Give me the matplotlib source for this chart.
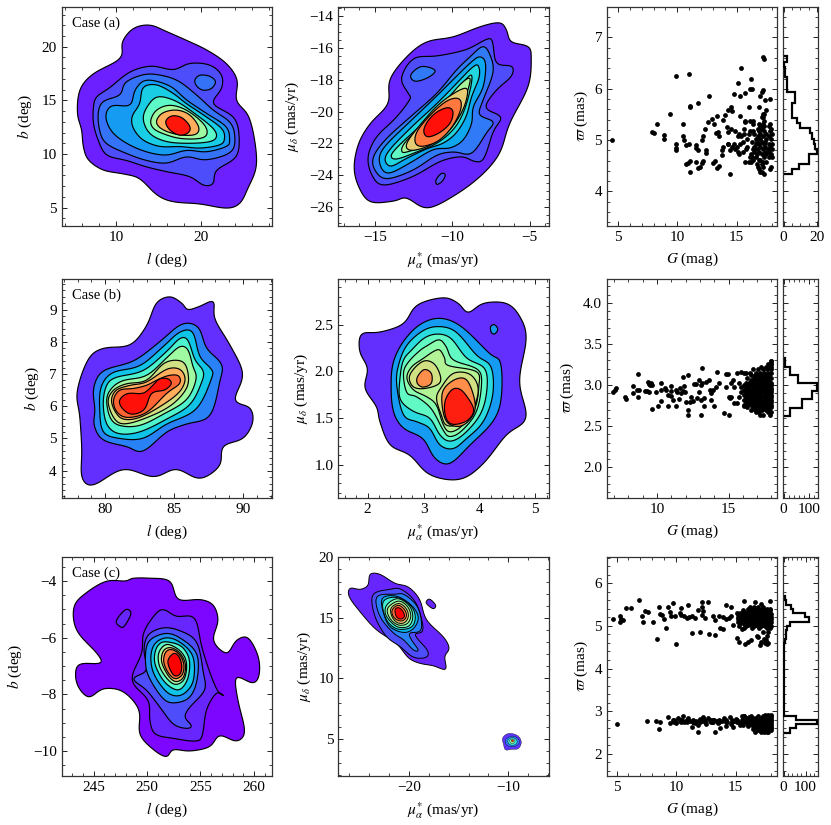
import numpy as np
import matplotlib
matplotlib.use("Agg")
import matplotlib.pyplot as plt
from matplotlib.ticker import MultipleLocator

plt.rcParams['font.family'] = ['Liberation Serif', 'DejaVu Serif']
plt.rcParams['mathtext.fontset'] = 'stix'
plt.rcParams['font.size'] = 10
plt.rcParams['axes.unicode_minus'] = True

# ---------- density contours: each level is a list of rings of (x, y) ----------
A1 = [
 [[(14.0,22.02),(16.0,21.4),(18.3,20.6),(20.7,19.7),(23.0,18.45),(24.3,16.9),(24.2,15.0),(25.6,13.6),(26.35,11.3),(26.55,8.8),(25.55,6.8),(24.6,5.4),(23.0,4.95),(19.9,5.35),(16.75,5.55),(14.8,6.2),(12.8,7.7),(10.85,8.15),(8.5,8.5),(6.75,9.45),(6.15,10.7),(5.95,12.25),(5.45,13.8),(5.75,16.0),(7.35,17.5),(10.5,18.9),(10.75,20.45),(12.05,21.7)]],
 [[(7.35,14.4),(7.75,15.35),(9.3,16.2),(11.65,17.65),(14.2,18.2),(16.75,17.85),(18.7,18.45),(21.05,18.3),(22.45,17.35),(22.45,16.1),(21.45,14.7),(23.8,13.5),(24.5,11.9),(24.2,9.75),(21.85,8.5),(21.45,7.25),(20.3,7.1),(18.7,7.9),(16,8.35),(13.6,8.8),(11.25,9.4),(8.9,9.9),(7.9,11.3),(7.35,12.85)]],
 [[(7.9,13.8),(8.5,14.9),(10.45,15.5),(11.05,16.6),(12.6,17.25),(14.4,17.45),(17.15,16.9),(19.5,15.5),(21.45,14.1),(23.4,13.0),(24.0,11.75),(23.6,10.2),(20.65,9.45),(18.3,9.75),(16,9.15),(13.6,9.4),(11.25,10.05),(8.9,10.95),(8.1,12.1)],
  [(19.3,16.9),(19.9,17.35),(21.05,17.25),(21.75,16.75),(21.25,16.1),(20.25,15.95),(19.5,16.35)]],
 [[(8.8,13.5),(9.5,14.5),(11.65,14.55),(12.25,15.95),(13.6,16.9),(16.35,16.35),(18.3,15.05),(20.65,13.8),(23,12.55),(23.4,11.3),(23,10.7),(20.65,10.2),(18.3,10.35),(16,9.9),(13.6,10.2),(11.25,11),(9.5,12.1)]],
 [[(11.9,13.5),(12.8,14.7),(13.2,16.2),(14.8,16.45),(16.75,15.65),(18.3,14.7),(20.3,13.65),(22.45,12.4),(22.8,11.45),(22.25,10.85),(19.9,10.55),(17.55,10.7),(15.2,10.7),(13.2,11.3),(12.05,12.4)]],
 [[(13.2,13.3),(13.8,14.55),(15,15.35),(17.15,14.9),(19.5,13.65),(21.45,12.4),(21.85,11.6),(21.05,11.15),(18.7,11),(16,11.15),(14,11.9)]],
 [[(14.1,13.15),(14.8,14.1),(16.35,14.55),(18.3,14.1),(20.3,12.85),(20.75,11.9),(19.9,11.45),(17.55,11.45),(15.55,11.9),(14.4,12.4)]],
 [[(14.8,13.15),(15.55,13.85),(17.15,14.1),(18.7,13.65),(19.75,12.55),(19.45,11.85),(17.9,11.75),(16.15,12.05),(15.05,12.55)]],
 [[(15.85,13.0),(16.55,13.55),(17.75,13.4),(18.7,12.6),(18.55,12.0),(17.55,11.75),(16.4,12.2)]],
]
A2 = [
 [[(-6.95,-14.4),(-6.5,-14.85),(-6.2,-15.6),(-5.1,-15.9),(-4.9,-16.65),(-5.1,-18.45),(-6.3,-20.75),(-6.95,-22.65),(-8.2,-24.1),(-9.95,-25.35),(-11.65,-26.1),(-12.95,-25.45),(-13.8,-25.65),(-15.3,-25.7),(-16.05,-24.75),(-16.35,-23.5),(-16.05,-22),(-15.3,-20.75),(-14.15,-19.5),(-14.05,-18),(-12.95,-16.55),(-11.65,-15.6),(-9.95,-15.3),(-8.2,-14.65)]],
 [[(-13.3,-17.9),(-12.5,-16.65),(-11,-16.5),(-9.1,-16.1),(-7.8,-15.45),(-7.4,-15.6),(-7.15,-16.95),(-6.15,-17.15),(-6.2,-17.8),(-7.15,-18.65),(-7.85,-19.75),(-6.85,-20.35),(-7.35,-21.25),(-7.95,-22.95),(-8.55,-23.15),(-9.4,-22.85),(-10.8,-23.15),(-12.55,-24.1),(-14.45,-24.65),(-15.2,-24),(-15.45,-22.85),(-14.9,-21.6),(-13.7,-20.45),(-12.75,-19.25),(-12.85,-18.85)],
  [(-11.05,-24.3),(-10.7,-23.9),(-10.45,-24),(-10.65,-24.4),(-11,-24.6)]],
 [[(-8.05,-15.9),(-7.6,-16.35),(-7.35,-17.5),(-8,-19.25),(-8.25,-20.2),(-7.35,-20.65),(-7.8,-21.35),(-8.75,-22.65),(-9.85,-22.55),(-11,-22.75),(-12.55,-23.7),(-14.25,-24.25),(-15,-23.7),(-15.1,-22.85),(-14.25,-21.7),(-12.55,-20.2),(-11,-18.85),(-9.75,-17.4),(-8.85,-16.55)],
  [(-12.7,-17.7),(-12,-17.15),(-11.1,-17.4),(-11.55,-17.85),(-12.4,-18.1)]],
 [[(-8.25,-16.55),(-7.85,-16.95),(-8,-18.45),(-8.65,-19.7),(-8.75,-20.75),(-9.3,-21.8),(-10.15,-22.3),(-11.25,-22.4),(-12.75,-23.25),(-14.15,-23.9),(-14.7,-23.25),(-14.45,-22.3),(-12.75,-20.65),(-11.25,-19.25),(-9.75,-17.8),(-8.85,-16.95)]],
 [[(-8.35,-17.07),(-8.25,-17.8),(-8.75,-19.05),(-9.1,-20.3),(-9.75,-21.35),(-10.6,-22),(-11.65,-22.35),(-12.95,-22.95),(-13.95,-23.45),(-14.35,-23.05),(-14,-22.35),(-12.55,-20.9),(-11,-19.5),(-9.55,-18.05),(-8.8,-17.3)]],
 [[(-8.75,-17.7),(-8.85,-18.65),(-9.3,-20.1),(-9.95,-21.15),(-11,-22),(-12.3,-22.55),(-13.6,-23),(-13.95,-22.75),(-13.3,-22),(-11.9,-20.75),(-10.6,-19.5),(-9.3,-18.15)]],
 [[(-8.85,-17.9),(-9.05,-18.85),(-9.45,-20.1),(-10.3,-21.3),(-11.4,-22.05),(-12.75,-22.5),(-13.25,-22.55),(-13.1,-22),(-12,-20.9),(-10.75,-19.7),(-9.5,-18.3)]],
 [[(-9.15,-18.5),(-9.1,-19.3),(-9.6,-20.4),(-10.5,-21.5),(-11.6,-22.2),(-12.7,-22.45),(-12.95,-22),(-12,-20.75),(-10.7,-19.4)]],
 [[(-9.55,-19.2),(-9.45,-19.85),(-10,-20.95),(-10.9,-21.85),(-11.95,-22.2),(-12.4,-21.95),(-12.25,-21.2),(-11.3,-20.1),(-10.3,-19.3)]],
 [[(-10.25,-19.75),(-9.95,-20.05),(-10.15,-20.75),(-10.85,-21.35),(-11.6,-21.6),(-11.85,-21.2),(-11.55,-20.55),(-10.95,-20)]],
]
B1 = [
 [[(84.7,9.4),(85.55,9.2),(86,9),(86.85,9.1),(87.85,9.25),(87.95,8.7),(89.05,7.9),(90,7),(89.4,6.2),(90.5,5.95),(90.7,5.5),(90,5),(88.55,4.75),(88.3,4.15),(86.85,3.75),(85.15,4.05),(83.5,3.8),(81.3,4.05),(79.15,3.55),(78.3,3.8),(78.3,4.65),(78.15,5.7),(77.95,6.45),(78.75,7.45),(79.85,7.8),(81.8,7.9),(83,8.5),(83.7,9.2)]],
 [[(85.55,8.55),(86.75,8.45),(87.35,7.8),(88.45,7.3),(88.3,6.75),(87.6,5.7),(85.9,5.45),(84.45,5.2),(82.75,4.6),(81.55,4.75),(79.85,4.95),(79.2,5.4),(79.25,5.9),(79.15,6.55),(79.85,7.1),(82.05,7.4),(83.95,8.0)]],
 [[(85.4,8.3),(86.35,8.3),(86.85,7.55),(87.7,7.15),(87.7,6.85),(86.6,5.9),(84.45,5.45),(82.75,5.0),(81.05,5.0),(79.85,5.2),(79.6,5.9),(79.7,6.6),(80.55,7.05),(82.5,7.25),(84.2,7.85)]],
 [[(85.4,8.1),(86,8.05),(86.5,7.45),(87.1,7.1),(87,6.75),(86.15,6.05),(84.45,5.6),(82.5,5.2),(80.95,5.15),(80.1,5.45),(79.85,6.1),(80.1,6.65),(80.8,6.9),(82.75,7.1),(84.45,7.7)]],
 [[(85.4,7.85),(86,7.75),(86.35,7.25),(86.6,6.85),(85.9,6.2),(84.2,5.75),(82.5,5.4),(81.05,5.4),(80.35,5.65),(80.1,6.2),(80.45,6.55),(81.3,6.8),(83,6.95),(84.45,7.5)]],
 [[(84.3,7.35),(85.55,7.4),(86,7.05),(85.9,6.55),(84.7,6),(82.75,5.6),(81.3,5.45),(80.6,5.65),(80.2,6.15),(80.6,6.5),(81.55,6.7),(83,6.8)]],
 [[(84.45,7.15),(85.4,7.15),(85.8,6.85),(85.4,6.45),(84.2,6.05),(82.5,5.65),(81.3,5.6),(80.7,5.85),(80.45,6.2),(80.8,6.5),(81.8,6.65),(83,6.75)]],
 [[(84.55,6.95),(85.3,6.95),(85.4,6.7),(84.45,6.4),(83,5.8),(81.55,5.65),(80.8,5.85),(80.6,6.2),(81.05,6.5),(82.05,6.55),(83,6.65),(83.7,6.8)]],
 [[(84.55,6.85),(84.8,6.7),(84.3,6.5),(83.35,6.4),(82.85,5.9),(81.9,5.75),(81.2,5.95),(81.05,6.2),(81.65,6.4),(82.75,6.4),(83.45,6.65),(83.95,6.85)]],
]
B2 = [
 [[(3.35,2.79),(3.62,2.73),(3.8,2.63),(4.07,2.73),(4.48,2.73),(4.72,2.59),(4.84,2.35),(4.71,1.89),(4.84,1.5),(4.48,1.32),(4.07,1.01),(3.65,0.84),(3.11,0.89),(2.76,1.1),(2.4,1.21),(2.22,1.46),(2.16,1.62),(1.95,1.82),(2,2.03),(1.86,2.21),(1.89,2.4),(2.22,2.42),(2.64,2.51),(2.88,2.71)]],
 [[(3.29,2.57),(3.68,2.48),(4.18,2.19),(4.38,2.09),(4.39,1.71),(4.24,1.46),(3.83,1.21),(3.47,1.01),(3.2,1.07),(2.99,1.28),(2.64,1.39),(2.46,1.57),(2.42,1.85),(2.46,2.1),(2.64,2.32),(2.93,2.5)],
  [(4.2,2.48),(4.27,2.5),(4.33,2.45),(4.27,2.4),(4.21,2.42)]],
 [[(3.29,2.48),(3.59,2.42),(3.95,2.17),(4.21,2.05),(4.24,1.75),(4.07,1.46),(3.77,1.28),(3.53,1.17),(3.29,1.21),(3.11,1.39),(2.88,1.46),(2.64,1.53),(2.52,1.85),(2.55,2.06),(2.7,2.28),(3,2.44)]],
 [[(3.26,2.4),(3.5,2.35),(3.77,2.14),(4.1,2.03),(4.13,1.78),(4.01,1.53),(3.71,1.32),(3.47,1.25),(3.29,1.32),(3.11,1.5),(2.82,1.57),(2.58,1.7),(2.58,1.93),(2.64,2.12),(2.79,2.23),(3.02,2.36)]],
 [[(3.28,2.34),(3.41,2.26),(3.53,2.12),(3.95,2.03),(4.04,1.89),(3.95,1.57),(3.68,1.36),(3.47,1.3),(3.35,1.37),(3.14,1.6),(2.87,1.73),(2.7,1.77),(2.64,1.98),(2.73,2.1),(2.93,2.22),(3.08,2.28)]],
 [[(3.29,2.23),(3.38,2.14),(3.44,2.06),(3.95,2),(3.99,1.85),(3.92,1.6),(3.68,1.41),(3.47,1.35),(3.35,1.43),(3.23,1.64),(3.05,1.73),(2.82,1.8),(2.7,1.93),(2.79,2.05),(3,2.14),(3.17,2.21)]],
 [[(2.75,1.96),(2.99,2.11),(3.21,2.07),(3.31,1.89),(3.07,1.82),(2.82,1.83)],
  [(3.32,1.83),(3.53,1.98),(3.83,1.97),(3.98,1.82),(3.89,1.6),(3.65,1.44),(3.41,1.42),(3.32,1.53),(3.23,1.71)]],
 [[(2.89,1.94),(3.01,2.02),(3.14,1.98),(3.14,1.87),(2.99,1.83),(2.89,1.87)],
  [(3.35,1.8),(3.59,1.92),(3.8,1.89),(3.93,1.6),(3.71,1.42),(3.44,1.44),(3.34,1.6)]],
 [[(3.38,1.67),(3.5,1.8),(3.65,1.81),(3.8,1.71),(3.9,1.58),(3.78,1.47),(3.53,1.43),(3.4,1.5)]],
]
C1 = [
 [[(248.7,-3.9),(250.25,-3.9),(252.15,-4.0),(252.9,-4.65),(254.95,-4.65),(256.2,-4.85),(256.65,-5.4),(256.2,-6.1),(257.45,-6.55),(258.35,-6.1),(259.45,-6.0),(260.4,-6.65),(260.5,-7.3),(259.9,-7.6),(258.35,-7.4),(258.5,-8.2),(259.15,-9.3),(258.35,-9.65),(256.8,-9.45),(255.85,-9.85),(254,-10.0),(252.45,-9.95),(251.8,-10.2),(250.6,-9.95),(249.3,-9.4),(249.25,-8.55),(247.75,-7.9),(245.9,-7.8),(244.5,-8.1),(243.4,-7.6),(243.55,-6.95),(245.6,-6.9),(245.3,-6.55),(243.4,-5.75),(243.15,-4.9),(244.35,-4.4),(246.2,-4.0),(247.95,-4.0)]],
 [[(251.5,-5.0),(252.75,-5.25),(254.45,-5.3),(255.1,-6.3),(255.9,-7.25),(256.65,-7.9),(257.2,-8.05),(256.5,-7.95),(255.55,-8.55),(255.2,-9.4),(254.6,-9.65),(252.45,-9.55),(250.75,-9.4),(250.25,-8.9),(250.1,-8.2),(248.55,-7.5),(249.5,-6.55),(249.65,-5.85),(250.6,-5.25)],
  [(247.1,-5.4),(248,-5.0),(248.5,-5.15),(247.85,-5.6),(247.45,-5.6)]],
 [[(251.5,-5.65),(253.05,-5.75),(254.65,-6.15),(255.25,-7.2),(255.4,-7.85),(254,-8.45),(253.55,-8.8),(254.15,-9.1),(253.7,-9.2),(252.45,-9.05),(251.2,-8.45),(249.95,-7.85),(248.7,-7.45),(249.95,-7.15),(249.7,-6.45),(250.1,-5.9)]],
 [[(251.65,-5.85),(253.05,-6),(254.65,-6.55),(254.7,-7.45),(254,-8.1),(252.6,-8.3),(251.5,-8.15),(250.25,-7.45),(249.85,-6.9),(250.1,-6.15)]],
 [[(251.8,-6),(253.05,-6.15),(254.3,-6.65),(254.35,-7.5),(253.55,-7.95),(252.6,-8.05),(251.65,-7.85),(250.6,-7.25),(250.35,-6.65),(250.75,-6.2)]],
 [[(251.95,-6.15),(253.2,-6.3),(253.95,-6.75),(253.85,-7.4),(253.2,-7.8),(252.45,-7.8),(251.5,-7.5),(250.75,-6.95),(250.75,-6.5),(251.2,-6.2)]],
 [[(252.15,-6.25),(253.2,-6.5),(253.7,-6.9),(253.5,-7.45),(252.75,-7.65),(252,-7.5),(251.2,-7.05),(251.05,-6.6),(251.5,-6.3)]],
 [[(252.25,-6.35),(253.1,-6.55),(253.6,-6.95),(253.4,-7.4),(252.7,-7.55),(252,-7.35),(251.35,-6.85),(251.55,-6.45)]],
 [[(252.35,-6.42),(253.05,-6.6),(253.45,-6.95),(253.3,-7.3),(252.65,-7.45),(252,-7.25),(251.55,-6.85),(251.75,-6.5)]],
 [[(252.5,-6.55),(253,-6.68),(253.25,-7.0),(253.1,-7.27),(252.6,-7.35),(252.15,-7.12),(251.95,-6.8)]],
]
C2 = [
 [[(-23.9,18.6),(-22.9,18.6),(-21.4,17.85),(-20.05,17.55),(-18.9,16.5),(-18.25,14.85),(-16.55,13.45),(-15.95,12.5),(-16.4,11.8),(-16.3,10.75),(-17.55,11.05),(-18.9,11.25),(-20.05,11.7),(-21.25,12.9),(-23.25,14),(-24.9,15.5),(-26,16.75),(-25.9,17.45),(-24.9,17.35),(-24.1,17.7)],
  [(-18.25,16.35),(-17.9,16.55),(-17.3,16.05),(-17.55,15.75),(-18.15,16.1)]],
 [[(-23.65,16.9),(-21.9,17.35),(-20.75,17.35),(-19.25,16.2),(-18.55,14),(-19.4,13.6),(-18.15,12.35),(-18.25,11.75),(-19.55,11.75),(-20.9,12.65),(-22.25,13.45),(-23.4,15.1)]],
 [[(-23.25,16.75),(-21.4,16.95),(-20.4,16.9),(-19.05,15.8),(-18.75,14),(-19.9,13.75),(-19.75,13.2),(-19.05,12.35),(-19.55,12.35),(-20.55,13.2),(-21.55,13.75),(-22.9,15.1)]],
 [[(-22.75,16.55),(-21.25,16.8),(-19.75,16.05),(-19.05,15.1),(-19.4,14.25),(-20.25,13.8),(-21.4,14),(-22.25,14.7)]],
 [[(-22.6,16.35),(-21.25,16.7),(-19.8,16),(-19.35,15.1),(-19.65,14.3),(-20.55,14.05),(-21.5,14.2),(-22.35,15)]],
 [[(-22.2,16.1),(-21.1,16.6),(-19.95,16.0),(-19.6,15.1),(-19.95,14.35),(-20.85,14.2),(-21.6,14.5),(-22.35,15.3)]],
 [[(-22,15.95),(-21,16.4),(-20.1,15.9),(-19.8,15.1),(-20.2,14.5),(-21,14.4),(-21.7,14.75),(-22.15,15.4)]],
 [[(-21.8,15.8),(-21,16.2),(-20.25,15.75),(-20.05,15.1),(-20.45,14.6),(-21.15,14.6),(-21.7,15.1)]],
 [[(-21.65,15.7),(-21.05,16.05),(-20.4,15.65),(-20.25,15.1),(-20.65,14.75),(-21.25,14.85),(-21.65,15.25)]],
 [[(-21.4,15.65),(-21.05,15.85),(-20.6,15.55),(-20.45,15.1),(-20.85,14.9),(-21.25,15.1)]],
]
# the small proper-motion clump of case (c), drawn from outside to inside
C2_CLUMP = [
 [(-10.6,5.05),(-10.2,5.4),(-9.6,5.45),(-8.95,5.2),(-8.7,4.7),(-9,4.2),(-9.7,4.15),(-10.3,4.1),(-10.5,4.6)],
 [(-10.3,4.95),(-9.6,5.25),(-9,5),(-8.95,4.6),(-9.5,4.35),(-10.15,4.5)],
 [(-10.05,4.9),(-9.6,5.12),(-9.15,4.9),(-9.2,4.6),(-9.6,4.48),(-9.95,4.6)],
 [(-9.85,4.9),(-9.6,5.02),(-9.35,4.88),(-9.4,4.7),(-9.65,4.62),(-9.82,4.72)],
 [(-9.72,4.88),(-9.58,4.95),(-9.47,4.85),(-9.6,4.75)],
]
SHADE_CLUMP = [.07,.16,.36,.56,.95]
# rainbow position of each level
SHADE_A1 = [.04,.10,.15,.21,.30,.43,.56,.76,.97]
SHADE_A2 = [.05,.10,.16,.23,.32,.44,.58,.70,.84,.98]
SHADE_B1 = [.06,.17,.28,.40,.56,.66,.76,.87,.98]
SHADE_B2 = [.06,.21,.33,.44,.52,.60,.66,.81,.96]
SHADE_C1 = [.01,.05,.10,.18,.28,.42,.56,.72,.85,1.0]
SHADE_C2 = [.05,.10,.17,.26,.38,.5,.6,.72,.86,1.0]

# ---------- parallax vs G: isolated stars as (G, parallax), crowded parts as (parallax, [G...]) ----------
A_STARS = [(4.45,5.0),(7.9,5.15),(8.0,5.13),(8.25,5.31),(8.85,5.1),(8.9,5.03),(9.35,5.51),(9.85,6.25),(9.85,4.93),(9.85,4.85),(9.85,4.8),(10.5,5.31),(10.45,5.07),(10.55,5.0),(11,6.29),(11.1,5.66),(11.1,5.64),(11.75,5.73),(12.65,5.86),(10.75,4.9),(10.7,4.53),(10.9,4.56),(11.1,4.6),(11.1,4.37),(11,4.93),(11.6,4.9),(11.6,4.84),(11.7,4.8),(11.6,4.58),(11.75,4.45),(11.9,4.48),(12.05,4.55),(12.2,4.6),(12.1,5.0),(12.2,5.07),(12.35,5.22),(12.45,4.8),(12.4,4.75),(12.6,5.35),(12.9,5.42),(13.1,5.31),(13.35,5.47),(13,4.56),(13.15,4.59),(13.35,4.46),(13.5,4.49),(13.3,5.13),(13.45,5.16),(13.5,5.08),(13.75,4.8),(13.8,4.71),(13.85,4.87),(13.85,5.4),(14,5.49),(14.25,5.59),(14.5,5.65),(14.6,5.57),(14.15,5.25),(14.3,5.16),(14.5,5.21),(14.3,4.93),(14.4,4.8),(14.45,4.33),(14.8,5.89),(15.1,6.12),(15.3,5.85),(15.4,6.41),(15.7,5.91),(16.2,6.2),(16.1,6.0),(16.3,5.99),(15.3,5.46),(15.7,5.36),(17.2,6.61),(17.3,6.58),(17.2,5.97),(17.1,5.93),(17,5.85),(17.4,5.78),(17.8,5.8),(17.5,5.58),(16.85,5.65),(16,5.65)]
A_ROWS = [(4.33,[17.3]),(4.38,[17.0,17.15]),(4.43,[16.9,17.8]),(4.47,[16.8,17.9,17.2]),(4.53,[16.75,17.1]),(4.57,[15.7,16.0,16.2,17.2,17.5]),(4.62,[16.4,16.85,17.0]),(4.67,[16.1,16.3,16.6,17.3,17.7,18.0]),(4.72,[15.2,16.2,16.7,17.1,17.5,17.9]),(4.77,[15.1,15.5,16.5,16.9,17.4,17.7]),(4.82,[14.9,15.8,16.4,16.7,17.2,17.6,18.0]),(4.87,[14.6,15.0,15.9,16.5,17.0,17.4,17.8]),(4.92,[14.3,14.8,15.3,16.6,16.9,17.3,17.7,18.0]),(4.97,[15.5,16.3,16.7,17.1,17.4]),(5.02,[15.9,16.6,17.0,17.5,17.9]),(5.07,[15.1,15.4,16.8,17.2,17.7]),(5.12,[15.2,15.6,16.0,16.5,17.0,17.5,18.0]),(5.17,[14.9,16.1,16.4,16.9,17.3,17.8]),(5.22,[15.6,16.8,17.1,17.9]),(5.27,[17.0,17.3,17.7]),(5.32,[16.4,16.9,17.2,17.8]),(5.38,[15.7,16.1,16.4,17.3]),(5.45,[17.1,17.25]),(5.5,[17.2,17.3])]

B_STARS = [(6.95,2.91),(7.05,2.94),(7.1,2.96),(7.75,2.86),(7.8,2.83),(8.35,2.99),(8.35,2.9),(8.6,2.94),(8.7,2.86),(8.7,3.13),(8.75,2.94),(9.15,2.93),(9.3,2.93),(9.35,3.04),(9.45,3.01),(9.55,3.03),(9.45,2.92),(9.5,3.0),(9.67,3.0),(9.67,2.71),(9.95,2.92),(10.05,2.75),(10.25,2.81),(10.3,3.03),(10.3,2.94),(10.55,2.96),(10.6,2.94),(10.75,2.88),(10.75,2.74),(10.95,2.99),(11,2.93),(10.95,2.87),(11.1,2.82),(11.35,2.94),(11.35,2.75),(11.4,2.91),(11.6,2.96),(11.55,2.83),(11.7,2.9),(11.8,2.93),(11.8,3.1),(11.9,2.99),(11.95,2.92),(12.15,3.12),(12.05,2.79),(12.15,2.7),(12.15,2.64),(12.3,2.79),(12.4,2.85),(12.5,2.81),(12.55,3.01),(12.7,3.01),(12.8,2.84),(12.9,2.92),(12.95,3.06),(13.05,3.0),(13.05,2.82),(13.05,2.63),(13.15,3.21),(13.15,3.02),(13.3,2.75),(13.3,2.84),(13.45,3.04),(13.65,3.06),(13.7,2.94),(13.75,2.9),(13.8,2.82),(13.9,2.94),(14,2.74),(14.2,3.16),(14.15,2.98),(14.35,3.02),(14.65,2.66),(14.8,3.13),(14.95,3.13),(15.05,2.64),(14.8,2.98),(15,2.85),(15.1,2.84),(15.2,3.02),(15.3,3.06),(15.4,2.98),(15.2,2.86),(15.4,2.78),(15.6,3.15),(15.7,2.85),(15.85,3.16),(15.9,2.98),(15.6,2.78),(15.75,3.02),(15.9,2.92),(16.05,2.75),(16.1,3.15)]
B_G1 = [16.2,16.45,16.7,16.95,17.2,17.45,17.7,17.95]
B_G2 = [16.05,16.3,16.55,16.8,17.05,17.3,17.55,17.8,18.0]
B_G3 = [16.6,16.85,17.1,17.35,17.6,17.85]
B_ROWS = [(2.64,[17.2,17.4,17.9]),(2.67,[16.95,17.15,17.75,18.0]),(2.7,B_G3),(2.73,[16.3,16.7,16.95,17.2,17.45,17.7,17.95]),(2.76,B_G2),(2.79,B_G1),(2.82,B_G2),(2.85,B_G1),(2.88,B_G2),(2.91,B_G1),(2.94,B_G2),(2.97,B_G1),(3.0,B_G2),(3.03,B_G1),(3.06,B_G3),(3.09,[16.3,16.8,17.05,17.3,17.55,17.8,18.0]),(3.12,B_G3),(3.15,[16.2,16.5,16.9,17.2,17.5,17.75,18.0]),(3.19,[16.7,17.05,17.4,17.7,17.95]),(3.22,[17.3,17.6,17.85,18.0]),(3.26,[17.75,17.95,18.0]),(3.29,[17.95,18.0])]

C_STARS = [(4.7,5.16),(5.3,5.23),(5.4,5.16),(5.3,5.08),(5.55,5.14),(5.8,5.41),(6.25,5.41),(6.9,5.61),(7.1,5.24),(7.25,5.08),(7.4,5.35),(7.6,5.33),(8.1,5.08),(8.4,4.69),(8.55,5.44),(8.65,5.28),(8.85,5.26),(9,5.16),(9.15,4.96),(9.35,5.44),(9.45,5.33),(9.7,5.53),(9.6,5.22),(9.9,5.23),(10,4.57),(10.45,5.41),(11,5.49),(10.3,5.31),(10.45,5.26),(10.65,5.22),(10.95,5.18),(11.3,4.83),(11.6,5.18),(11.8,5.36),(12,4.85),(12.15,5.55),(12.15,5.45),(12.15,5.26),(12.3,5.34),(12.4,5.18),(12.7,5.56),(12.8,4.8),(13.25,4.79),(13.1,5.22),(13.25,5.14),(13.6,5.22),(13.7,4.95),(13.95,4.92),(14.15,5.49),(14.4,5.18),(14.6,5.44),(14.75,5.02),(14.65,5.22),(15.1,4.71),(15.25,4.63),(15.7,5.58),(15.8,4.57),(16.05,4.63),(16.25,4.67),(16.65,5.55),(16.75,4.77),(17.1,5.51),(17.15,4.63),(17.05,4.55),(17.55,4.67),(17.65,4.77),(17.9,5.59),(17.35,4.7),(17.45,4.6),(16.9,4.73),(15.1,5.3),(11.3,5.22),(11.05,5.2),(13.9,5.2),(14.2,5.15),(17.6,4.58),(17.7,4.6),(17.3,4.85),(17.75,4.85),(15.5,4.92),
 (5.0,2.71),(7.55,2.76),(8.3,2.76),(8.65,2.75),(8.55,2.58),(9.3,2.86),(9.5,2.72),(9.7,2.8),(9.9,2.78),(10,2.72),(10.2,2.85),(10.3,2.76),(10.5,2.8),(10.6,2.88),(10.7,2.74),(10.9,2.79),(11,2.84),(11.15,2.76),(11.3,2.62),(11.45,2.74),(11.6,2.72),(11.7,2.78),(11.8,2.68),(11.85,2.52),(12,2.82),(12.15,2.76),(12.3,2.86),(12.5,2.7),(12.65,2.84),(12.85,2.76),(13,2.74),(13.2,2.8),(13.3,2.52),(13.4,2.76),(13.55,2.72),(13.7,2.6),(13.85,2.78),(14,2.84),(14.15,2.66),(14.3,2.74),(14.5,2.86),(14.6,2.7),(14.75,2.62),(14.9,2.76),(15,2.82),(15.2,2.74),(15.4,2.68),(15.55,2.88),(15.7,2.9),(15.85,2.78),(16,2.66),(16.15,2.86),(16.3,2.74),(16.45,2.58),(16.6,2.84),(16.75,2.66),(16.65,2.52)]
C_U1 = [15.35,15.6,15.85,16.1,16.35,16.6,16.85,17.1,17.35,17.6,17.85]
C_U2 = [15.2,15.45,15.7,15.95,16.2,16.45,16.7,16.95,17.2,17.45,17.7,17.95]
C_U3 = [15.8,16.05,16.3,16.55,16.8,17.05,17.3,17.55,17.8]
C_L1 = [16.9,17.1,17.3,17.5,17.7,17.9,18.0]
C_L2 = [15.6,16.0,16.4,16.8,17.0,17.2,17.4,17.6,17.8,18.0]
C_LOW = [9.8,10.4,10.9,11.4,12.0,12.4,12.9,13.1,13.6,14.2,14.7,15.1,15.5,15.9,16.2,16.55]
C_ROWS = [(4.96,[15.7,16.4,17.0,17.6,17.85]),(5.0,[15.3,15.9,16.5,16.85,17.15,17.5,17.8,17.95]),(5.03,C_U3),(5.06,C_U1),(5.09,C_U2),(5.12,C_U1),(5.15,C_U2),(5.18,C_U1),(5.21,C_U2),(5.24,C_U1),(5.27,C_U2),(5.3,C_U1),(5.33,C_U3),(5.36,[15.6,16.1,16.35,16.6,16.85,17.1,17.35,17.6,17.85]),(5.4,[16.0,16.3,16.6,16.85,17.2,17.6,17.85]),(5.45,[16.2,16.5,16.85,17.3]),
 (2.52,[17.1,17.35,17.6,17.75]),(2.56,C_L1),(2.6,C_L1),(2.64,[16.5,16.8,17.0,17.2,17.4,17.6,17.8,18.0]),(2.68,C_L2),(2.72,C_L2),(2.74,C_LOW),(2.76,C_L2),(2.79,C_LOW),(2.8,C_L2),(2.84,C_L2),(2.88,[15.7,16.3,16.9,17.3,17.6,17.8,18.0]),(2.92,[17.5,17.75,17.95])]

# ---------- parallax histograms: first edge, bin width, counts ----------
HIST_A = (4.33, 0.1, [5,9,15,15,20,19,18,17,16,10,8,5,5,5,7,7,2,2,2,1,1,0,2])
HIST_B = (2.625, 0.1, [24,70,109,129,57,24,4])
HIST_C = (2.5, 0.1, [28,55,154,55,1,1,1,1,1,1,1,1,1,1,1,1,1,1,1,1,3,8,10,12,15,28,117,98,43,35,12,6])

LIMS = {
 'A1': ((3.6,28.4),(3.32,23.73)), 'A2': ((-17.37,-3.75),(-27.2,-13.39)), 'A3': ((4.07,18.4),(3.33,7.6)), 'AH': ((-0.4,20.8),(3.33,7.6)),
 'B1': ((76.84,92.1),(3.16,9.95)), 'B2': ((1.476,5.244),(0.645,2.99)), 'B3': ((6.5,18.39),(1.63,4.29)), 'BH': ((-2.6,135),(1.63,4.29)),
 'C1': ((242.0,261.7),(-10.87,-3.14)), 'C2': ((-27.09,-5.92),(1.97,20.05)), 'C3': ((4.2,18.47),(1.49,6.62)), 'CH': ((-3,158),(1.49,6.62)),
}
W, H = 831, 825
fig = plt.figure(figsize=(W/100, H/100), dpi=100)
cmap = plt.get_cmap('rainbow')

def add_axes(l, r, t, b):
    return fig.add_axes([l/W, 1-b/H, (r-l)/W, (b-t)/H])

def style(ax, lims, xM, xm, yM, ym):
    ax.set_xlim(*lims[0]); ax.set_ylim(*lims[1])
    ax.xaxis.set_major_locator(MultipleLocator(xM)); ax.xaxis.set_minor_locator(MultipleLocator(xm))
    ax.yaxis.set_major_locator(MultipleLocator(yM)); ax.yaxis.set_minor_locator(MultipleLocator(ym))
    ax.tick_params(which='both', direction='in', top=True, right=True, color='#222222', labelsize=11, pad=3.5)
    ax.tick_params(which='major', length=3.8, width=0.7)
    ax.tick_params(which='minor', length=2.0, width=0.6)
    for s in ax.spines.values():
        s.set_linewidth(0.9); s.set_color('#333333')

def smooth(ring):
    p = np.array(ring, float)
    n = len(p)
    t = np.linspace(0, 1, 16, endpoint=False)[:, None]
    out = []
    for i in range(n):
        p0, p1, p2, p3 = p[i-1], p[i], p[(i+1) % n], p[(i+2) % n]
        out.append(0.5*((2*p1) + (p2-p0)*t + (2*p0-5*p1+4*p2-p3)*t**2 + (3*p1-p0-3*p2+p3)*t**3))
    out = np.vstack(out)
    # round off the corners left by the sparse reading
    win = 9
    kernel = np.ones(win)/win
    wrapped = np.vstack([out[-win:], out, out[:win]])
    rounded = np.column_stack([np.convolve(wrapped[:, j], kernel, mode='same') for j in range(2)])[win:-win]
    return np.vstack([rounded, rounded[:1]])

def draw_density(ax, levels, shades, lw=0.85):
    for k, (rings, f) in enumerate(zip(levels, shades)):
        for r in rings:
            c = smooth(r)
            ax.fill(c[:, 0], c[:, 1], facecolor=cmap(f), edgecolor='black', lw=lw, zorder=2+k*0.1)

def ylabel(ax, text, px, l, r):
    ax.set_ylabel(text, fontsize=11)
    ax.yaxis.set_label_coords((px+9.5-l)/(r-l), 0.5)

def xlabel(ax, text):
    ax.set_xlabel(text, fontsize=11)
    ax.xaxis.set_label_coords(0.5, -0.113)

def flatten(stars, rows):
    g = [s[0] for s in stars]
    p = [s[1] for s in stars]
    for plx, mags in rows:
        g.extend(mags)
        p.extend([plx]*len(mags))
    return g, p

ROW_T = [6.7, 279, 556.7]
ROW_B = [225.7, 497.7, 775.7]
L1, R1, L2, R2, L3, R3, L4, R4 = 61.7, 272, 338.3, 549, 607, 777, 783, 818.3
LX = r'$l$ (deg)'; LB = r'$b$ (deg)'; LMA = r'$\mu_{\alpha}^{*}$ (mas/yr)'; LMD = r'$\mu_{\delta}$ (mas/yr)'
LG = r'$G$ (mag)'; LP = r'$\varpi$ (mas)'

rows = [
 dict(d1=A1, s1=SHADE_A1, d2=A2, s2=SHADE_A2, S=A_STARS, Q=A_ROWS, H=HIST_A, case='Case (a)', k='A',
      t1=(10,2,5,1), t2=(5,1,2,0.5), t3=(5,1,1,0.2), th=(20,5,1,0.2), lab=(24,291.7,580), lw2=0.85),
 dict(d1=B1, s1=SHADE_B1, d2=B2, s2=SHADE_B2, S=B_STARS, Q=B_ROWS, H=HIST_B, case='Case (b)', k='B',
      t1=(5,1,1,0.2), t2=(1,0.2,0.5,0.1), t3=(5,1,0.5,0.1), th=(100,20,0.5,0.1), lab=(31.7,300,566.7), lw2=0.85),
 dict(d1=C1, s1=SHADE_C1, d2=C2, s2=SHADE_C2, S=C_STARS, Q=C_ROWS, H=HIST_C, case='Case (c)', k='C',
      t1=(5,1,2,0.5), t2=(10,2,5,1), t3=(5,1,1,0.2), th=(100,20,1,0.2), lab=(14,303.3,580), lw2=0.7),
]
for i, R in enumerate(rows):
    t, b, k = ROW_T[i], ROW_B[i], R['k']
    a1 = add_axes(L1, R1, t, b); style(a1, LIMS[k+'1'], *R['t1']); draw_density(a1, R['d1'], R['s1'])
    a1.text(0.05, 0.925, R['case'], transform=a1.transAxes, fontsize=10.5, va='center', ha='left', zorder=10)
    xlabel(a1, LX); ylabel(a1, LB, R['lab'][0], L1, R1)
    a2 = add_axes(L2, R2, t, b); style(a2, LIMS[k+'2'], *R['t2']); draw_density(a2, R['d2'], R['s2'], lw=R['lw2'])
    if k == 'C':
        draw_density(a2, [[r] for r in C2_CLUMP], SHADE_CLUMP, lw=0.25)
    xlabel(a2, LMA); ylabel(a2, LMD, R['lab'][1], L2, R2)
    a3 = add_axes(L3, R3, t, b); style(a3, LIMS[k+'3'], *R['t3'])
    g, p = flatten(R['S'], R['Q'])
    a3.scatter(g, p, s=12, c='black', linewidths=0, zorder=3)
    xlabel(a3, LG); ylabel(a3, LP, R['lab'][2], L3, R3)
    h = add_axes(L4, R4, t, b); style(h, LIMS[k+'H'], *R['th'])
    e0, w, counts = R['H']
    edges = [e0 + w*j for j in range(len(counts)+1)]
    h.stairs(counts, edges, orientation='horizontal', color='black', lw=1.6, baseline=0, zorder=3)
    h.tick_params(labelleft=False)
fig.savefig('out.png', dpi=100)
